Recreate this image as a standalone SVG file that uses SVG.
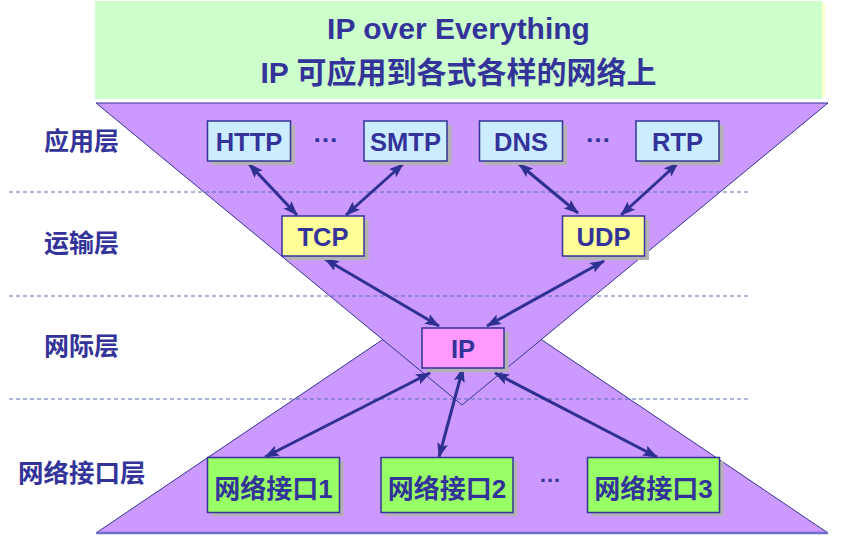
<svg xmlns="http://www.w3.org/2000/svg" width="868" height="539" viewBox="0 0 868 539">
<defs>
<style>
.t{font-family:"Liberation Sans","Noto Sans CJK SC",sans-serif;font-weight:bold;fill:#333399;}
.c{text-anchor:middle;}
.box{stroke:#333399;stroke-width:1.5;}
.sh{fill:#B2B2B2;}
.app{fill:#CCECFF;}
.tr{fill:#FFFF99;}
.ip{fill:#FF99FF;}
.net{fill:#99FF66;}
.dash{stroke:#5A6FB0;stroke-width:1.2;stroke-dasharray:4 3;}
.arr{stroke:#2E3192;stroke-width:3;fill:none;marker-start:url(#ah);marker-end:url(#ah);}
.dots{font-family:"Liberation Sans",sans-serif;font-weight:bold;fill:#333399;text-anchor:middle;}
</style>
<marker id="ah" viewBox="0 0 15 11" refX="14" refY="5.5" markerWidth="15" markerHeight="11" markerUnits="userSpaceOnUse" orient="auto-start-reverse">
<path d="M0,0 L15,5.5 L0,11 L3,5.5 Z" fill="#2E3192"/>
</marker>
</defs>
<rect width="868" height="539" fill="#FFFFFF"/>
<g id="header">
<rect x="822" y="3" width="3" height="94" fill="#FFFFCC"/>
<rect x="95" y="1" width="727" height="98" fill="#CCFFCC"/>
<text class="t c" x="458.5" y="39" font-size="30">IP over Everything</text>
<text class="t c" x="458.5" y="83" font-size="30">IP 可应用到各式各样的网络上</text>
</g>
<g id="hourglass">
<polygon points="96,533 828,533 462,286" fill="#CC99FF" stroke="#333399" stroke-width="1"/>
<line x1="96" y1="533" x2="828" y2="533" stroke="#7070CC" stroke-width="2.5"/>
<polygon points="96,103 828,103 462,405" fill="#CC99FF" stroke="#333399" stroke-width="1"/>
</g>
<g id="layer-lines">
<line class="dash" x1="9" y1="192" x2="749" y2="192"/>
<line class="dash" x1="9" y1="296" x2="749" y2="296"/>
<line class="dash" x1="9" y1="399" x2="749" y2="399"/>
</g>
<g id="layer-labels">
<text class="t" x="44" y="150" font-size="25">应用层</text>
<text class="t" x="44" y="252" font-size="25">运输层</text>
<text class="t" x="44" y="355" font-size="25">网际层</text>
<text class="t" x="18" y="482" font-size="25.5">网络接口层</text>
</g>
<g id="connectors">
<line class="arr" x1="249" y1="164" x2="297" y2="215"/>
<line class="arr" x1="403" y1="164" x2="346" y2="215"/>
<line class="arr" x1="519" y1="164" x2="578" y2="213"/>
<line class="arr" x1="678" y1="163" x2="621" y2="215"/>
<line class="arr" x1="325" y1="259" x2="439" y2="326"/>
<line class="arr" x1="604" y1="261" x2="487" y2="326"/>
<line class="arr" x1="430" y1="373" x2="265" y2="457"/>
<line class="arr" x1="463" y1="368" x2="439" y2="457"/>
<line class="arr" x1="495" y1="373" x2="657" y2="457"/>
</g>
<g id="node-http">
<rect class="sh" x="212" y="125" width="83" height="40"/>
<rect class="box app" x="207.5" y="121" width="83" height="40"/>
<text class="t c" x="249" y="150.5" font-size="25.5">HTTP</text>
</g>
<text class="dots" x="325.5" y="142" font-size="26">…</text>
<g id="node-smtp">
<rect class="sh" x="368.5" y="125" width="83" height="40"/>
<rect class="box app" x="364" y="121" width="83" height="40"/>
<text class="t c" x="405.5" y="150.5" font-size="25.5">SMTP</text>
</g>
<g id="node-dns">
<rect class="sh" x="484" y="125" width="83" height="40"/>
<rect class="box app" x="479.5" y="121" width="83" height="40"/>
<text class="t c" x="521" y="150.5" font-size="25.5">DNS</text>
</g>
<text class="dots" x="598" y="142" font-size="26">…</text>
<g id="node-rtp">
<rect class="sh" x="640.5" y="125" width="83" height="40"/>
<rect class="box app" x="636" y="121" width="83" height="40"/>
<text class="t c" x="677.5" y="150.5" font-size="25.5">RTP</text>
</g>
<g id="node-tcp">
<rect class="sh" x="286.5" y="220" width="82" height="40"/>
<rect class="box tr" x="282" y="216" width="82" height="40"/>
<text class="t c" x="323" y="245.5" font-size="25.5">TCP</text>
</g>
<g id="node-udp">
<rect class="sh" x="567" y="220" width="82" height="40"/>
<rect class="box tr" x="562.5" y="216" width="82" height="40"/>
<text class="t c" x="603.5" y="245.5" font-size="25.5">UDP</text>
</g>
<g id="node-ip">
<rect class="sh" x="426.5" y="332" width="82" height="40"/>
<rect class="box ip" x="422" y="328" width="82" height="40"/>
<text class="t c" x="463" y="357.5" font-size="25.5">IP</text>
</g>
<g id="node-net1">
<rect class="sh" x="211.5" y="461" width="132" height="55"/>
<rect class="box net" x="207.5" y="457.5" width="132" height="55"/>
<text class="t c" x="273.5" y="498" font-size="26">网络接口1</text>
</g>
<g id="node-net2">
<rect class="sh" x="385" y="461" width="132" height="55"/>
<rect class="box net" x="381" y="457.5" width="132" height="55"/>
<text class="t c" x="447" y="498" font-size="26">网络接口2</text>
</g>
<text class="dots" x="550" y="482" font-size="22">…</text>
<g id="node-net3">
<rect class="sh" x="591.5" y="461" width="132" height="55"/>
<rect class="box net" x="587.5" y="457.5" width="132" height="55"/>
<text class="t c" x="653.5" y="498" font-size="26">网络接口3</text>
</g>
</svg>
